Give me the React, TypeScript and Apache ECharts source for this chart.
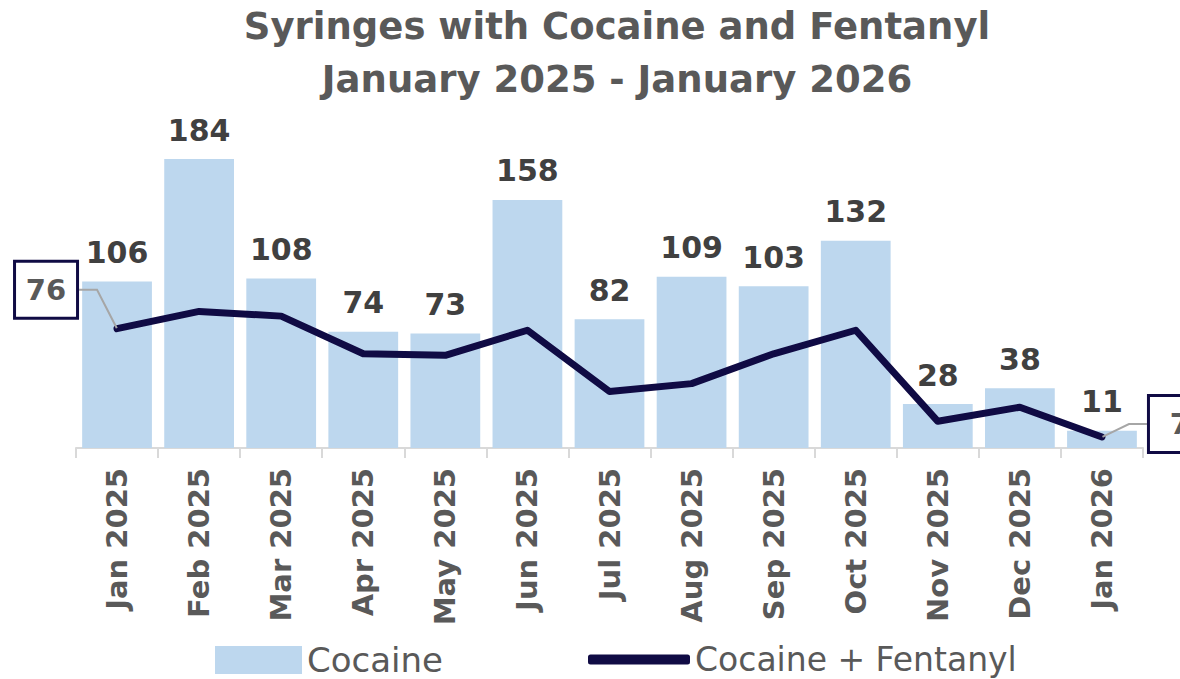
import React, { useEffect, useRef } from "react";
import * as echarts from "echarts";

const categories = [
  "Jan 2025", "Feb 2025", "Mar 2025", "Apr 2025", "May 2025", "Jun 2025", "Jul 2025",
  "Aug 2025", "Sep 2025", "Oct 2025", "Nov 2025", "Dec 2025", "Jan 2026",
];
const cocaine = [106, 184, 108, 74, 73, 158, 82, 109, 103, 132, 28, 38, 11];
const cocaineFentanyl = [76, 87, 84, 60, 59, 75, 36, 41, 60, 75, 17, 26, 7];
const titleLines = ["Syringes with Cocaine and Fentanyl", "January 2025 - January 2026"];

const FONT = "DejaVu Sans";
const GREY = "#595959";
const NAVY = "#100b44";
const BAR = "#bdd7ee";

export default function App() {
  const ref = useRef<HTMLDivElement>(null);
  useEffect(() => {
    if (!ref.current) return;
    const chart = echarts.init(ref.current, null, { renderer: "svg" });
    const lastIdx = cocaineFentanyl.length - 1;
    const lineData = cocaineFentanyl.map((v, i) => ({
      value: v,
      label: { show: i === 0 || i === lastIdx },
    }));
    chart.setOption({
      animation: false,
      backgroundColor: "#ffffff",
      textStyle: { fontFamily: FONT },
      graphic: titleLines.map((t, i) => ({
        type: "text",
        x: 617,
        y: 26 + i * 53,
        style: {
          text: t,
          fill: GREY,
          font: `bold 37px '${FONT}'`,
          textAlign: "center",
          textVerticalAlign: "middle",
        },
      })),
      grid: { left: 76, right: 37, top: 134, bottom: 231 },
      legend: [
        {
          data: ["Cocaine"],
          left: 210,
          top: 638,
          icon: "rect",
          itemWidth: 87,
          itemHeight: 28,
          textStyle: { fontSize: 34, color: GREY, fontFamily: FONT },
        },
        {
          data: ["Cocaine + Fentanyl"],
          left: 583,
          top: 638,
          icon: "roundRect",
          itemWidth: 102,
          itemHeight: 10,
          textStyle: { fontSize: 33, color: GREY, fontFamily: FONT },
        },
      ],
      xAxis: {
        type: "category",
        data: categories,
        axisLine: { lineStyle: { color: "#d9d9d9", width: 2 } },
        axisTick: { show: true, length: 10, lineStyle: { color: "#d9d9d9", width: 2 } },
        axisLabel: {
          rotate: 90,
          fontSize: 29,
          fontWeight: "bold",
          color: GREY,
          fontFamily: FONT,
          margin: 20,
        },
      },
      yAxis: {
        type: "value",
        min: 0,
        max: 200,
        show: false,
        splitLine: { show: false },
      },
      series: [
        {
          name: "Cocaine",
          type: "bar",
          data: cocaine,
          barCategoryGap: "15%",
          itemStyle: { color: BAR },
          label: {
            show: true,
            position: "top",
            distance: 14,
            fontSize: 30,
            fontWeight: "bold",
            color: "#404040",
            fontFamily: FONT,
          },
        },
        {
          name: "Cocaine + Fentanyl",
          type: "line",
          data: lineData,
          symbol: "circle",
          symbolSize: 1,
          lineStyle: { color: NAVY, width: 7, join: "round", cap: "round" },
          itemStyle: { color: NAVY },
          label: {
            position: "inside",
            fontSize: 29,
            fontWeight: "bold",
            color: GREY,
            fontFamily: FONT,
            backgroundColor: "#ffffff",
            borderColor: NAVY,
            borderWidth: 3,
            padding: [9, 10],
            width: 40,
            align: "center",
            lineHeight: 36,
          },
          labelLine: {
            show: true,
            length2: 18,
            minTurnAngle: 30,
            lineStyle: { color: "#a6a6a6", width: 2 },
          },
          labelLayout: (p: any) =>
            p.dataIndex === 0
              ? { dx: -71, dy: -39 }
              : p.dataIndex === lastIdx
              ? { dx: 78, dy: -13 }
              : {},
        },
      ],
    });
    return () => chart.dispose();
  }, []);
  return (
    <div
      ref={ref}
      style={{ position: "fixed", left: 0, top: 0, width: 1180, height: 679 }}
    />
  );
}
